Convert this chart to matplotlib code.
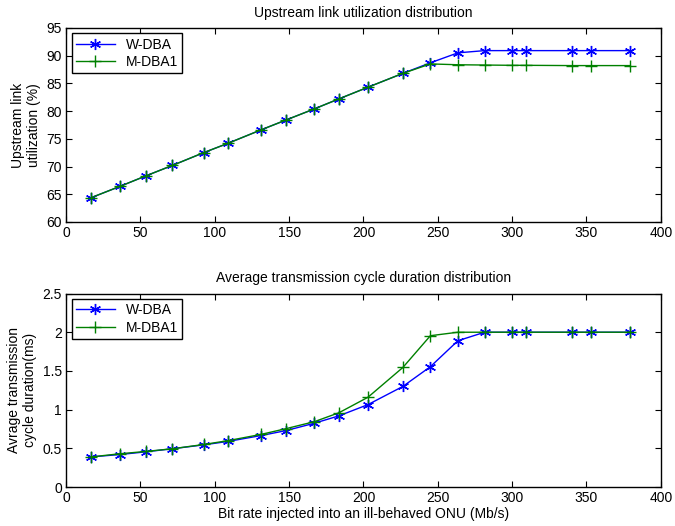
import numpy as np
import matplotlib.pyplot as plt

plt.rcParams['font.family'] = ['Liberation Sans', 'DejaVu Sans']

rate = [17, 36, 53.5, 71.5, 92.5, 109, 131, 148, 167, 183.5, 203, 226.5, 245, 263.5, 281.5, 300, 309, 340, 353, 379.5]

util_w = [64.4, 66.4, 68.3, 70.2, 72.5, 74.2, 76.6, 78.4, 80.4, 82.2, 84.3, 86.8, 88.7, 90.5, 90.9, 90.9, 90.9, 90.9, 90.9, 90.9]
util_m = [64.4, 66.4, 68.3, 70.2, 72.5, 74.2, 76.6, 78.4, 80.4, 82.2, 84.3, 86.8, 88.5, 88.35, 88.3, 88.25, 88.25, 88.2, 88.2, 88.2]

cyc_w = [0.39, 0.42, 0.455, 0.495, 0.545, 0.59, 0.665, 0.73, 0.825, 0.92, 1.065, 1.30, 1.555, 1.89, 2.0, 2.0, 2.0, 2.0, 2.0, 2.0]
cyc_m = [0.39, 0.43, 0.46, 0.495, 0.55, 0.60, 0.68, 0.755, 0.845, 0.96, 1.16, 1.545, 1.955, 2.0, 2.0, 2.0, 2.0, 2.0, 2.0, 2.0]

fig = plt.figure(figsize=(6.75, 5.26), dpi=100)
ax1 = fig.add_axes([0.098, 0.578, 0.881, 0.369])
ax2 = fig.add_axes([0.098, 0.074, 0.881, 0.368])

for ax, w, m in [(ax1, util_w, util_m), (ax2, cyc_w, cyc_m)]:
    ax.plot(rate, w, color='blue', marker=(6, 2, 0), markersize=8, mew=1, lw=1, label='W-DBA')
    ax.plot(rate, m, color=(0, 0.5, 0), marker='+', markersize=8, mew=1, lw=1, label='M-DBA1')
    ax.set_xlim(0, 400)
    ax.set_xticks(range(0, 401, 50))
    ax.tick_params(direction='in', top=True, right=True, labelsize=10, length=4, pad=3)
    for s in ax.spines.values():
        s.set_linewidth(1.0)
    leg = ax.legend(loc='upper left', fontsize=10, fancybox=False, framealpha=1,
                    borderaxespad=0.4, handlelength=2.8, borderpad=0.3, labelspacing=0.25)
    leg.get_frame().set_edgecolor('black')
    leg.get_frame().set_linewidth(1.0)

ax1.set_ylim(60, 95)
ax1.set_yticks(range(60, 96, 5))
ax1.set_title('Upstream link utilization distribution', fontsize=10, pad=8)
ax1.set_ylabel('Upstream link\nutilization (%)', fontsize=10)

ax2.set_ylim(0, 2.5)
ax2.set_yticks([0, 0.5, 1, 1.5, 2, 2.5])
ax2.set_yticklabels(['0', '0.5', '1', '1.5', '2', '2.5'])
ax2.set_title('Average transmission cycle duration distribution', fontsize=10, pad=8)
ax2.set_ylabel('Avrage transmission\ncycle duration(ms)', fontsize=10)
ax2.set_xlabel('Bit rate injected into an ill-behaved ONU (Mb/s)', fontsize=10, labelpad=1)

fig.savefig('out.png', dpi=100)
